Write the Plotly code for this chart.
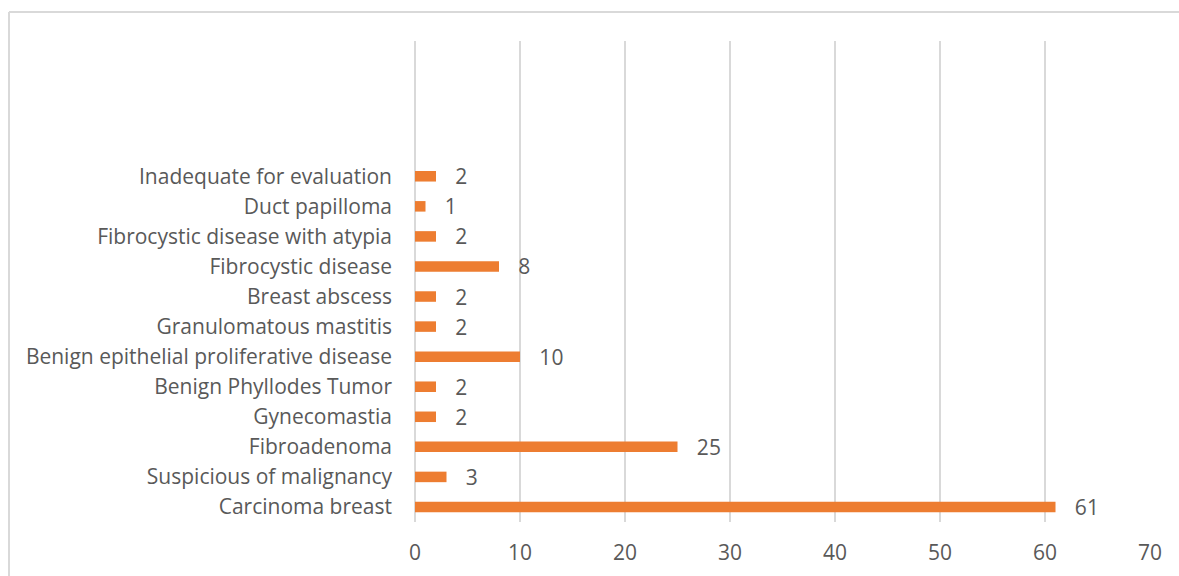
import plotly.graph_objects as go

# Cytology diagnoses, listed bottom to top
categories = [
    "Carcinoma breast",
    "Suspicious of malignancy",
    "Fibroadenoma",
    "Gynecomastia",
    "Benign Phyllodes Tumor",
    "Benign epithelial proliferative disease",
    "Granulomatous mastitis",
    "Breast abscess",
    "Fibrocystic disease",
    "Fibrocystic disease with atypia",
    "Duct papilloma",
    "Inadequate for evaluation",
]
counts = [61, 3, 25, 2, 2, 10, 2, 2, 8, 2, 1, 2]
x_ticks = [0, 10, 20, 30, 40, 50, 60, 70]

ORANGE = "#ED7D31"
TEXT = "#595959"
GRID = "#D9D9D9"
FONT = "Open Sans, Calibri, Carlito, sans-serif"
FS = 21

fig = go.Figure(
    go.Bar(
        x=counts,
        y=categories,
        orientation="h",
        width=0.35,
        marker=dict(color=ORANGE, line=dict(width=0)),
        text=counts,
        texttemplate="   %{x}",
        textposition="outside",
        constraintext="none",
        cliponaxis=False,
        textfont=dict(family=FONT, size=FS, color=TEXT),
        hoverinfo="skip",
    )
)

W, H = 1179, 576
ml, mr, mt, mb = 415, 29, 41, 54
pw, ph = W - ml - mr, H - mt - mb

# light frame along the top and left edges of the chart area
fx = (9 - ml) / pw
fy = 1 + (mt - 12) / ph
fb = -(mb) / ph
fr = 1 + mr / pw

fig.update_layout(
    width=W,
    height=H,
    margin=dict(l=ml, r=mr, t=mt, b=mb, autoexpand=False),
    paper_bgcolor="white",
    plot_bgcolor="white",
    showlegend=False,
    font=dict(family=FONT, size=FS, color=TEXT),
    shapes=[
        dict(type="line", xref="paper", yref="paper", x0=fx, x1=fr, y0=fy, y1=fy,
             line=dict(color=GRID, width=2), layer="below"),
        dict(type="line", xref="paper", yref="paper", x0=fx, x1=fx, y0=fy, y1=fb,
             line=dict(color=GRID, width=2), layer="below"),
    ],
    xaxis=dict(
        range=[0, 70],
        tickvals=x_ticks,
        showgrid=True,
        gridcolor=GRID,
        gridwidth=2,
        zeroline=True,
        zerolinecolor=GRID,
        zerolinewidth=2,
        showline=False,
        ticks="",
        automargin=False,
        ticklabelstandoff=16,
        tickfont=dict(family=FONT, size=FS, color=TEXT),
        fixedrange=True,
    ),
    yaxis=dict(
        type="category",
        categoryorder="array",
        categoryarray=categories,
        range=[-0.5, 15.5],
        showgrid=False,
        zeroline=False,
        showline=False,
        ticks="",
        automargin=False,
        ticklabelstandoff=22,
        tickfont=dict(family=FONT, size=FS, color=TEXT),
        fixedrange=True,
    ),
)

fig.write_html("out.html")
